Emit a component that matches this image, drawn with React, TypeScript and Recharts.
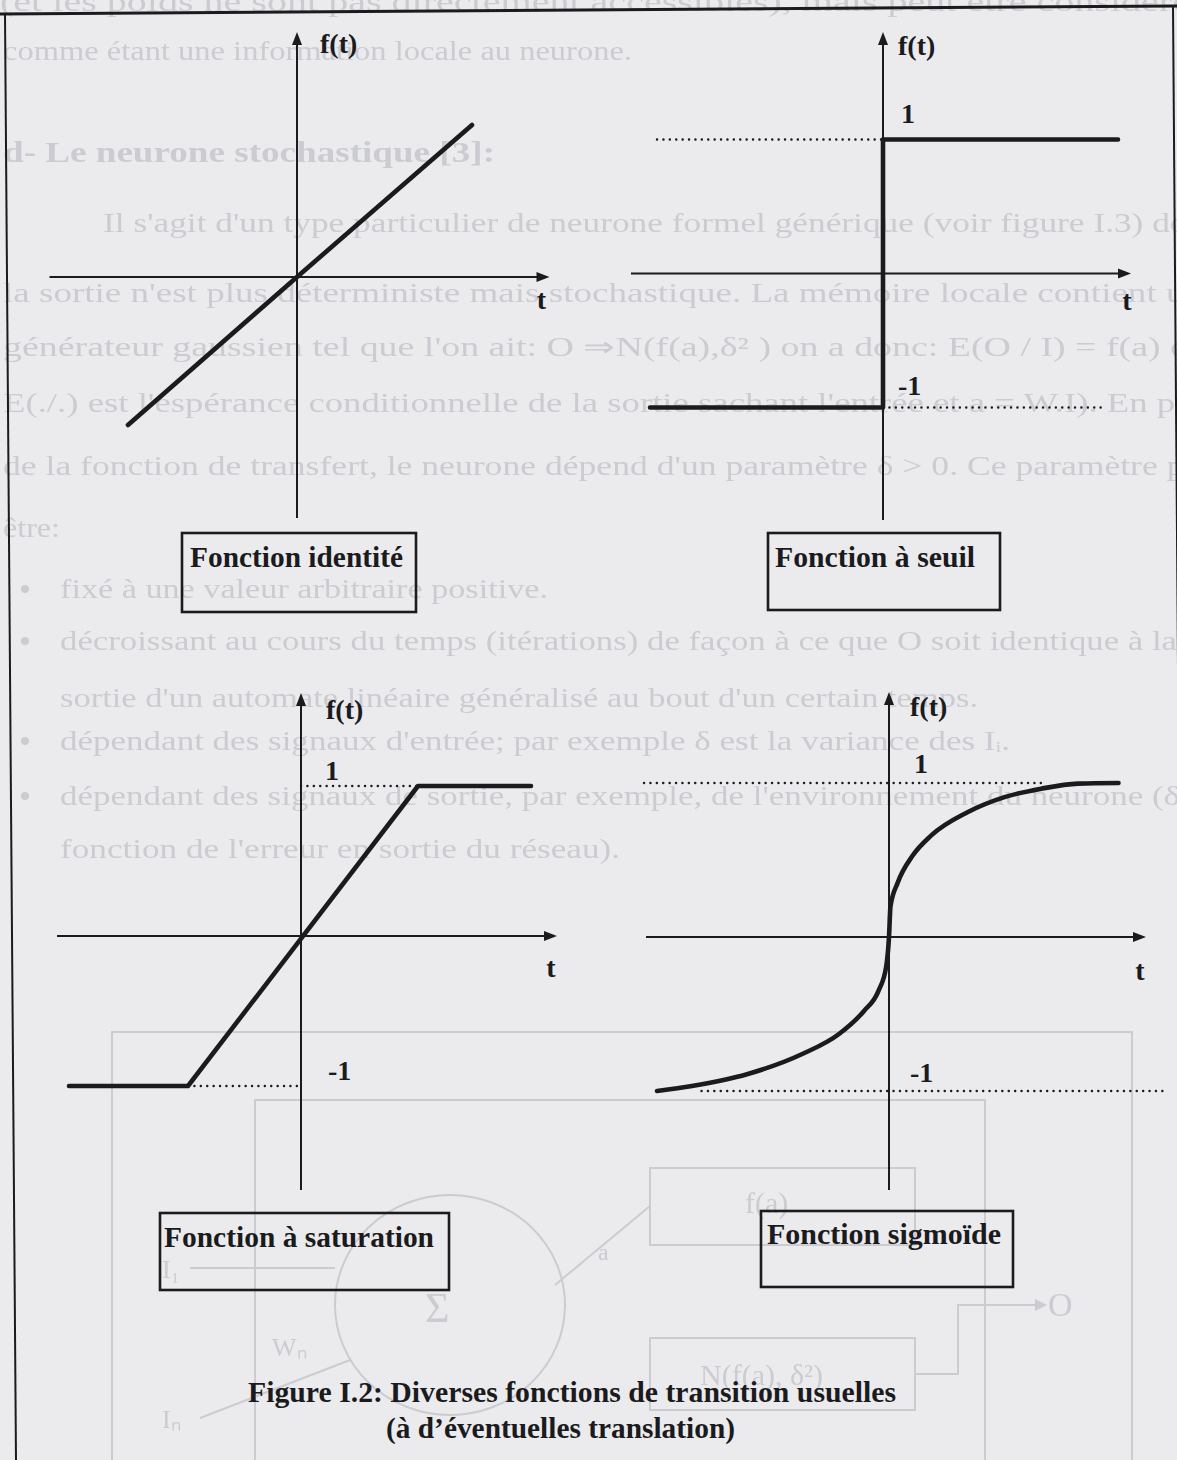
import React from 'react';
import { LineChart, Line, XAxis, YAxis, ReferenceLine, ReferenceDot } from 'recharts';

// ---------- page look ----------
const PAGE_W = 1177;
const PAGE_H = 1460;
const PAPER = '#ebebee';
const INK = '#1b1b1d';
const GHOST = '#cbcbd2';
const SERIF = '"Liberation Serif", "Times New Roman", Times, serif';

// ---------- values (t on the horizontal axis, f(t) on the vertical one) ----------
// Fonction identité
const identityT = [-0.676, 0, 0.7];
const identityF = [-0.592, 0, 0.608];

// Fonction à seuil
const thresholdT = [-0.932, 0, 0, 0.94];
const thresholdF = [-1, -1, 1, 1];

// Fonction à saturation
const saturationT = [-0.928, -0.452, 0.468, 0.92];
const saturationF = [-1, -1, 1, 1];

// Fonction sigmoïde
const sigmoidT = [-0.928, -0.788, -0.568, -0.347, -0.2, -0.1, -0.042, -0.011, 0, 0.006, 0.035, 0.094, 0.168, 0.314, 0.462, 0.609, 0.756, 0.918];
const sigmoidF = [-1, -0.967, -0.891, -0.76, -0.63, -0.48, -0.35, -0.19, 0, 0.2, 0.353, 0.527, 0.658, 0.81, 0.908, 0.963, 0.996, 1];

// extents of the drawn axes: [min, max]
const identityAxisT = [-0.99, 1.01];
const identityAxisF = [-0.964, 0.98];
const thresholdAxisT = [-1.008, 0.992];
const thresholdAxisF = [-1.84, 1.802];
const saturationAxisT = [-0.976, 1.024];
const saturationAxisF = [-1.693, 1.62];
const sigmoidAxisT = [-0.972, 1.028];
const sigmoidAxisF = [-1.643, 1.591];

// dotted guides at the levels 1 and -1: [level, from t, to t]
const thresholdGuides = [[1, -0.904, 0], [-1, 0, 0.888]];
const saturationGuides = [[1, 0, 0.468], [-1, -0.452, 0]];
const sigmoidGuides = [[1, -0.98, 0.632], [-1, -0.75, 1.108]];

const levels = [1, -1];
const levelTexts = ['1', '-1'];
const axisNames = ['t', 'f(t)'];
const panelTitles = ['Fonction identité', 'Fonction à seuil', 'Fonction à saturation', 'Fonction sigmoïde'];
const captionLines = ['Figure I.2: Diverses fonctions de transition usuelles', '(à d’éventuelles translation)'];

// ---------- helpers ----------
type Frame = { left: number; top: number; width: number; height: number; ox: number; oy: number; sx: number; sy: number };

const toPoints = (ts: number[], fs: number[]) => ts.map((t, i) => ({ t, f: fs[i] }));

const domainsOf = (fr: Frame) => ({
  x: [(fr.left - fr.ox) / fr.sx, (fr.left + fr.width - fr.ox) / fr.sx] as [number, number],
  y: [(fr.oy - (fr.top + fr.height)) / fr.sy, (fr.oy - fr.top) / fr.sy] as [number, number],
});

const ArrowAxis = (props: any) => {
  const { x1, y1, x2, y2 } = props;
  const dx = x2 - x1;
  const dy = y2 - y1;
  const len = Math.hypot(dx, dy) || 1;
  const ux = dx / len;
  const uy = dy / len;
  const L = 13;
  const hw = 5;
  const bx = x2 - ux * L;
  const by = y2 - uy * L;
  const pts = `${x2},${y2} ${bx - uy * hw},${by + ux * hw} ${bx + uy * hw},${by - ux * hw}`;
  return (
    <g>
      <line x1={x1} y1={y1} x2={bx + ux * 2} y2={by + uy * 2} stroke={INK} strokeWidth={2} />
      <polygon points={pts} fill={INK} />
    </g>
  );
};

const labelShape = (text: string, dx: number, dy: number, anchor: 'start' | 'middle' = 'start') => (p: any) => (
  <text x={p.cx + dx} y={p.cy + dy} textAnchor={anchor} fontFamily={SERIF} fontWeight="bold" fontSize={28} fill={INK}>
    {text}
  </text>
);

type Offsets = { t: [number, number]; f: [number, number]; up?: [number, number]; down?: [number, number] };

type PanelProps = {
  frame: Frame;
  points: { t: number; f: number }[];
  curve: 'linear' | 'monotone';
  axisT: number[];
  axisF: number[];
  guides: number[][];
  off: Offsets;
};

function Panel({ frame, points, curve, axisT, axisF, guides, off }: PanelProps) {
  const d = domainsOf(frame);
  return (
    <div style={{ position: 'absolute', left: frame.left, top: frame.top }}>
      <LineChart
        width={frame.width}
        height={frame.height}
        data={points}
        margin={{ top: 0, right: 0, bottom: 0, left: 0 }}
        style={{ overflow: 'visible' }}
      >
        <XAxis type="number" dataKey="t" domain={d.x} hide allowDataOverflow scale="linear" />
        <YAxis type="number" domain={d.y} hide allowDataOverflow scale="linear" />
        <ReferenceLine segment={[{ x: axisT[0], y: 0 }, { x: axisT[1], y: 0 }]} shape={ArrowAxis} ifOverflow="visible" />
        <ReferenceLine segment={[{ x: 0, y: axisF[0] }, { x: 0, y: axisF[1] }]} shape={ArrowAxis} ifOverflow="visible" />
        {guides.map((g, i) => (
          <ReferenceLine
            key={`g${i}`}
            segment={[{ x: g[1], y: g[0] }, { x: g[2], y: g[0] }]}
            stroke={INK}
            strokeWidth={2.4}
            strokeDasharray="0.1 6.3"
            strokeLinecap="round"
            ifOverflow="visible"
          />
        ))}
        <Line
          dataKey="f"
          type={curve}
          stroke={INK}
          strokeWidth={4.6}
          strokeLinecap="round"
          strokeLinejoin="round"
          dot={false}
          activeDot={false}
          isAnimationActive={false}
        />
        <ReferenceDot x={axisT[1]} y={0} ifOverflow="visible" shape={labelShape(axisNames[0], off.t[0], off.t[1], 'middle')} />
        <ReferenceDot x={0} y={axisF[1]} ifOverflow="visible" shape={labelShape(axisNames[1], off.f[0], off.f[1])} />
        {off.up && (
          <ReferenceDot x={0} y={levels[0]} ifOverflow="visible" shape={labelShape(levelTexts[0], off.up[0], off.up[1])} />
        )}
        {off.down && (
          <ReferenceDot x={0} y={levels[1]} ifOverflow="visible" shape={labelShape(levelTexts[1], off.down[0], off.down[1])} />
        )}
      </LineChart>
    </div>
  );
}

// ---------- faint print showing through from the reverse side ----------
const ghostLines: [number, number, string, number, boolean][] = [
  [0, 11, '(et les poids ne sont pas directement accessibles), mais peut être considéré', 1190, false],
  [3, 60, 'comme étant une information locale au neurone.', 629, false],
  [3, 162, 'd-  Le neurone stochastique [3]:', 492, true],
  [103, 232, 'Il s\'agit d\'un type particulier de neurone formel générique (voir figure I.3) dont', 1112, false],
  [3, 302, 'la sortie n\'est plus déterministe mais stochastique. La mémoire locale contient un', 1200, false],
  [3, 356, 'générateur gaussien tel que l\'on ait: O ⇒N(f(a),δ²  ) on a donc: E(O / I) = f(a) où', 1205, false],
  [3, 412, 'E(./.) est l\'espérance conditionnelle de la sortie sachant l\'entrée et a = W.I). En plus', 1215, false],
  [3, 475, 'de la fonction de transfert, le neurone dépend d\'un paramètre δ > 0. Ce paramètre peut', 1225, false],
  [3, 537, 'être:', 57, false],
  [60, 598, 'fixé à une valeur arbitraire positive.', 488, false],
  [60, 650, 'décroissant au cours du temps (itérations) de façon à ce que O soit identique à la', 1117, false],
  [60, 707, 'sortie d\'un automate linéaire généralisé au bout d\'un certain temps.', 918, false],
  [60, 750, 'dépendant des signaux d\'entrée; par exemple δ  est la variance des Iᵢ.', 950, false],
  [60, 805, 'dépendant des signaux de sortie, par exemple, de l\'environnement du neurone (δ', 1120, false],
  [60, 858, 'fonction de l\'erreur en sortie du réseau).', 560, false],
];
const ghostBullets = [598, 650, 750, 805];

function ReverseSide() {
  return (
    <svg width={PAGE_W} height={PAGE_H} style={{ position: 'absolute', left: 0, top: 0, filter: 'blur(0.6px)' }}>
      <g fill={GHOST} fontFamily={SERIF} fontSize={27}>
        {ghostLines.map(([x, y, s, len, bold], i) => (
          <text key={i} x={x} y={y} textLength={len} lengthAdjust="spacingAndGlyphs" fontWeight={bold ? 'bold' : 'normal'} fontSize={bold ? 29 : 27}>
            {s}
          </text>
        ))}
        {ghostBullets.map((y) => (
          <circle key={y} cx={25} cy={y - 9} r={4} />
        ))}
      </g>
      <g stroke={GHOST} strokeWidth={2} fill="none">
        <rect x={112} y={1032} width={1020} height={440} />
        <rect x={255} y={1100} width={730} height={380} />
        <rect x={650} y={1168} width={265} height={77} />
        <rect x={650} y={1338} width={265} height={72} />
        <ellipse cx={450} cy={1305} rx={115} ry={110} />
        <line x1={555} y1={1285} x2={650} y2={1206} />
        <line x1={190} y1={1268} x2={335} y2={1268} />
        <line x1={200} y1={1418} x2={350} y2={1360} />
        <polyline points="915,1374 958,1374 958,1305 1035,1305" />
      </g>
      <g fill={GHOST} fontFamily={SERIF}>
        <text x={745} y={1213} fontSize={30}>f(a)</text>
        <text x={700} y={1385} fontSize={30}>N(f(a),  δ²)</text>
        <text x={425} y={1322} fontSize={42}>Σ</text>
        <text x={598} y={1260} fontSize={24}>a</text>
        <text x={162} y={1278} fontSize={26}>I₁</text>
        <text x={272} y={1356} fontSize={26}>Wₙ</text>
        <text x={162} y={1428} fontSize={26}>Iₙ</text>
        <text x={1048} y={1316} fontSize={34}>O</text>
        <polygon points="1035,1299 1047,1305 1035,1311" />
      </g>
    </svg>
  );
}

// ---------- frame, panel titles and caption ----------
const titleBoxes: [number, number, number, number, number, number, number][] = [
  // box x, y, w, h, text x, baseline, text width
  [182, 533, 234, 79, 190, 567, 213],
  [768, 533, 232, 77, 775, 567, 200],
  [160, 1213, 289, 77, 164, 1247, 270],
  [761, 1211, 252, 76, 767, 1244, 234],
];
const captionPlacement: [number, number, number][] = [
  [248, 1402, 648],
  [386, 1438, 349],
];

function Overlay() {
  return (
    <svg width={PAGE_W} height={PAGE_H} style={{ position: 'absolute', left: 0, top: 0, pointerEvents: 'none' }}>
      <g stroke={INK} fill="none">
        <line x1={0} y1={14} x2={PAGE_W} y2={6} strokeWidth={3} />
        <line x1={5} y1={14} x2={16} y2={PAGE_H} strokeWidth={2} />
        <line x1={1173} y1={6} x2={1184} y2={PAGE_H} strokeWidth={2} />
        {titleBoxes.map(([x, y, w, h], i) => (
          <rect key={i} x={x} y={y} width={w} height={h} strokeWidth={2.6} />
        ))}
      </g>
      <g fill={INK} fontFamily={SERIF} fontWeight="bold" fontSize={29}>
        {titleBoxes.map(([, , , , tx, ty, tw], i) => (
          <text key={i} x={tx} y={ty} textLength={tw} lengthAdjust="spacingAndGlyphs">
            {panelTitles[i]}
          </text>
        ))}
        {captionPlacement.map(([x, y, w], i) => (
          <text key={i} x={x} y={y} textLength={w} lengthAdjust="spacingAndGlyphs">
            {captionLines[i]}
          </text>
        ))}
      </g>
    </svg>
  );
}

// ---------- panel geometry (origin in page pixels, pixels per unit) ----------
const identityFrame: Frame = { left: 10, top: 20, width: 580, height: 510, ox: 297, oy: 277, sx: 250, sy: 250 };
const thresholdFrame: Frame = { left: 600, top: 20, width: 575, height: 510, ox: 883, oy: 273.5, sx: 250, sy: 134 };
const saturationFrame: Frame = { left: 10, top: 680, width: 580, height: 520, ox: 301, oy: 936, sx: 250, sy: 150 };
const sigmoidFrame: Frame = { left: 600, top: 680, width: 575, height: 520, ox: 889, oy: 937, sx: 250, sy: 154 };

export default function App() {
  return (
    <div
      style={{
        position: 'absolute',
        left: 0,
        top: 0,
        width: PAGE_W,
        height: PAGE_H,
        background: PAPER,
        overflow: 'hidden',
      }}
    >
      <ReverseSide />
      <Panel
        frame={identityFrame}
        points={toPoints(identityT, identityF)}
        curve="linear"
        axisT={identityAxisT}
        axisF={identityAxisF}
        guides={[]}
        off={{ t: [-8, 32], f: [23, 21] }}
      />
      <Panel
        frame={thresholdFrame}
        points={toPoints(thresholdT, thresholdF)}
        curve="linear"
        axisT={thresholdAxisT}
        axisF={thresholdAxisF}
        guides={thresholdGuides}
        off={{ t: [-4, 36], f: [15, 23], up: [18, -17], down: [15, -13] }}
      />
      <Panel
        frame={saturationFrame}
        points={toPoints(saturationT, saturationF)}
        curve="linear"
        axisT={saturationAxisT}
        axisF={saturationAxisF}
        guides={saturationGuides}
        off={{ t: [-6, 41], f: [25, 26], up: [24, -6], down: [27, -6] }}
      />
      <Panel
        frame={sigmoidFrame}
        points={toPoints(sigmoidT, sigmoidF)}
        curve="monotone"
        axisT={sigmoidAxisT}
        axisF={sigmoidAxisF}
        guides={sigmoidGuides}
        off={{ t: [-6, 43], f: [21, 24], up: [25, -10], down: [21, -9] }}
      />
      <Overlay />
    </div>
  );
}
